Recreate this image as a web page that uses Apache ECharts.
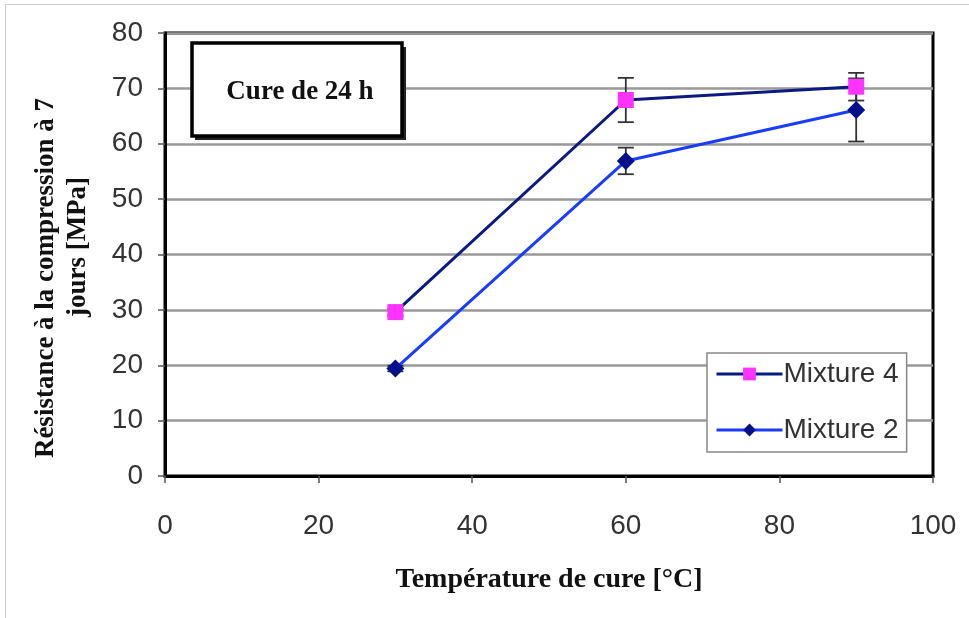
<!DOCTYPE html>
<html><head><meta charset="utf-8">
<script src="https://cdn.jsdelivr.net/npm/echarts@6/dist/echarts.min.js"></script>
<style>html,body{margin:0;padding:0;background:#fff;}#c{width:969px;height:618px;}
#frame{position:absolute;left:5px;top:4px;width:970px;height:620px;border-left:1px solid #ccc;border-top:1px solid #ccc;pointer-events:none;}</style>
</head><body><div id="c"></div><div id="frame"></div>
<script>
const temps = [30, 60, 90];
const mix4 = [29.6, 67.9, 70.3];
const mix4Err = [0.6, 4.0, 2.5];
const mix2 = [19.4, 56.9, 66.1];
const mix2Err = [0.5, 2.4, 5.7];
const xTicks = [0, 20, 40, 60, 80, 100];
const yTicks = [0, 10, 20, 30, 40, 50, 60, 70, 80];
const yTitle1 = 'Résistance à la compression à 7';
const yTitle2 = 'jours [MPa]';

const chart = echarts.init(document.getElementById('c'));
function errSeries(vals, errs, name) {
  return {
    type: 'custom', name: name + ' err', silent: true, z: 3,
    data: temps.map((t, i) => [t, vals[i] - errs[i], vals[i] + errs[i]]),
    renderItem: function (params, api) {
      const lo = api.coord([api.value(0), api.value(1)]);
      const hi = api.coord([api.value(0), api.value(2)]);
      const w = 8;
      const st = {stroke: '#333', lineWidth: 1.8};
      return {type: 'group', children: [
        {type: 'line', shape: {x1: lo[0], y1: lo[1], x2: hi[0], y2: hi[1]}, style: st},
        {type: 'line', shape: {x1: lo[0]-w, y1: lo[1], x2: lo[0]+w, y2: lo[1]}, style: st},
        {type: 'line', shape: {x1: hi[0]-w, y1: hi[1], x2: hi[0]+w, y2: hi[1]}, style: st}
      ]};
    }
  };
}
const serif = 'Liberation Serif';
chart.setOption({
  animation: false,
  grid: {left: 165, right: 36, top: 33, bottom: 142, show: true, borderColor: '#000', borderWidth: 3, backgroundColor: 'transparent'},
  xAxis: {
    type: 'value', min: 0, max: 100, interval: 20,
    name: 'Température de cure [°C]', nameLocation: 'middle', nameGap: 90,
    nameTextStyle: {fontFamily: serif, fontWeight: 'bold', fontSize: 28, color: '#111'},
    axisLine: {show: true, lineStyle: {color: '#000', width: 3}},
    axisTick: {show: true, length: 7, lineStyle: {color: '#555', width: 1.5}},
    axisLabel: {fontFamily: 'Liberation Sans', fontSize: 28, color: '#333', margin: 36,
      formatter: v => xTicks.includes(v) ? String(v) : ''},
    splitLine: {show: false}
  },
  yAxis: {
    type: 'value', min: 0, max: 80, interval: 10,
    axisLine: {show: true, lineStyle: {color: '#000', width: 3}},
    axisTick: {show: true, length: 7, lineStyle: {color: '#555', width: 1.5}},
    axisLabel: {fontFamily: 'Liberation Sans', fontSize: 28, color: '#333', margin: 22,
      formatter: v => yTicks.includes(v) ? String(v) : ''},
    splitLine: {show: true, lineStyle: {color: '#999', width: 2.5}}
  },
  legend: {
    left: 707, top: 353, orient: 'vertical',
    padding: [6, 8, 7, 8], itemGap: 26, itemWidth: 66, itemHeight: 16,
    borderColor: '#888', borderWidth: 1.5, backgroundColor: '#fff',
    textStyle: {fontFamily: 'Liberation Sans', fontSize: 28, color: '#333', lineHeight: 30, padding: [0, 0, 0, -4]},
    data: [{name: 'Mixture 4', lineStyle: {width: 3}}, {name: 'Mixture 2', lineStyle: {width: 3}}]
  },
  graphic: [
    {type: 'rect', shape: {x: 195, y: 47, width: 211, height: 93}, style: {fill: '#222'}, z: 10},
    {type: 'rect', shape: {x: 192, y: 43, width: 210, height: 93}, style: {fill: '#fff', stroke: '#000', lineWidth: 3.5}, z: 11},
    {type: 'text', x: 300, y: 92, style: {text: 'Cure de 24 h', fontFamily: serif, fontWeight: 'bold', fontSize: 27, fill: '#111', align: 'center', verticalAlign: 'middle'}, z: 12},
    {type: 'text', x: 46, y: 278, rotation: Math.PI / 2, style: {text: yTitle1, fontFamily: serif, fontWeight: 'bold', fontSize: 27, fill: '#111', align: 'center', verticalAlign: 'middle'}},
    {type: 'text', x: 78, y: 247, rotation: Math.PI / 2, style: {text: yTitle2, fontFamily: serif, fontWeight: 'bold', fontSize: 27, fill: '#111', align: 'center', verticalAlign: 'middle'}}
  ],
  series: [
    errSeries(mix2, mix2Err, 'Mixture 2'),
    errSeries(mix4, mix4Err, 'Mixture 4'),
    {name: 'Mixture 2', type: 'line', data: temps.map((t, i) => [t, mix2[i]]), z: 4,
      lineStyle: {color: '#1a3cff', width: 3}, itemStyle: {color: '#00108a'},
      symbol: 'diamond', symbolSize: 18, showSymbol: true},
    {name: 'Mixture 4', type: 'line', data: temps.map((t, i) => [t, mix4[i]]), z: 5,
      lineStyle: {color: '#0a1a80', width: 3}, itemStyle: {color: '#ff33ff'},
      symbol: 'rect', symbolSize: 16, showSymbol: true}
  ]
});
</script></body></html>
